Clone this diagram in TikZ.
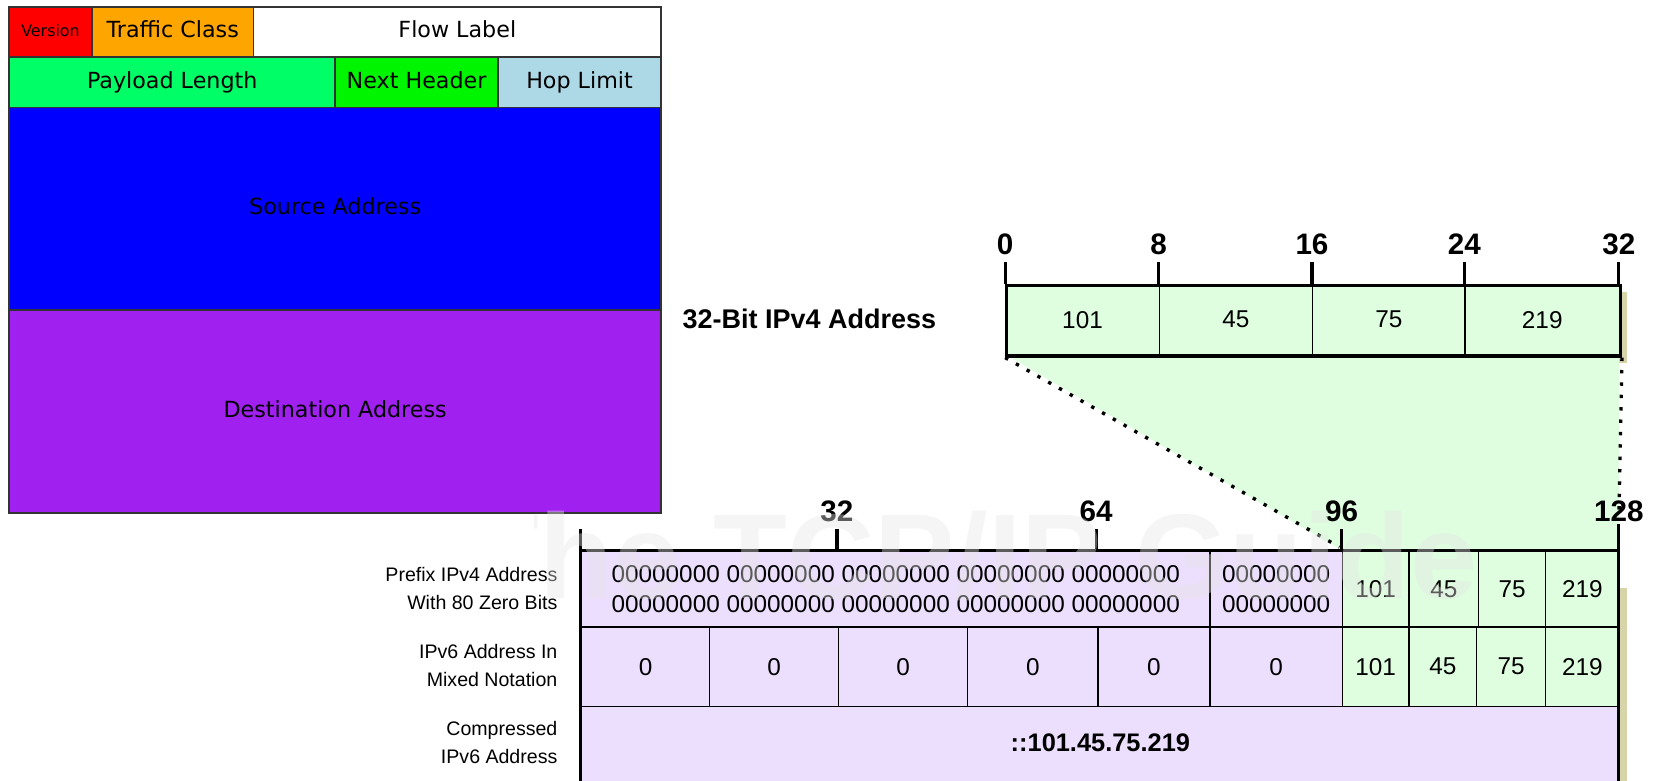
\documentclass[tikz,border=0pt]{standalone}
\usepackage{fontspec}
\setmainfont{Liberation Sans}
\newfontfamily\djv{DejaVu Sans}
\definecolor{vred}{HTML}{FF0000}
\definecolor{torange}{HTML}{FFA500}
\definecolor{plgreen}{HTML}{00FF66}
\definecolor{nhgreen}{HTML}{00F500}
\definecolor{hlblue}{HTML}{ADD8E6}
\definecolor{srcblue}{HTML}{0000FF}
\definecolor{dstpurple}{HTML}{A020F0}
\definecolor{ltgreen}{HTML}{DFFDDF}
\definecolor{ltpurple}{HTML}{ECDEFD}
\definecolor{shadowc}{HTML}{D8D4AA}
\newcommand\cellat[7]{\node[#6, minimum width={#4pt-#2pt}, minimum height={#5pt-#3pt}, anchor=north west] (#1) at (#2,#3) {#7};}
\begin{document}
\begin{tikzpicture}[x=1pt,y=-1pt,
  hcell/.style={draw=black!80, line width=1.5pt, inner sep=0pt, font=\djv\fontsize{21}{25}\selectfont, text=black, text height=15pt, text depth=4pt},
  vcell/.style={draw=black, line width=1.3pt, inner sep=0pt, font=\fontsize{23}{28}\selectfont, align=center},
  thickline/.style={line width=3pt},
  ticklbl/.style={font=\bfseries\fontsize{28}{30}\selectfont},
  rowlbl/.style={align=right, anchor=east, inner sep=0pt, font=\fontsize{18.5}{26}\selectfont},
  dotline/.style={line width=3.2pt, dash pattern=on 3.2pt off 8.5pt}]
\useasboundingbox (0,0) rectangle (1568,738);
% ---------------- IPv6 header ----------------
\cellat{ver}{8}{6}{86}{53}{hcell,fill=vred,font=\djv\fontsize{15}{18}\selectfont,text height=11pt,text depth=3pt}{Version}
\cellat{tc}{86}{6}{239}{53}{hcell,fill=torange}{Traffic Class}
\cellat{fl}{239}{6}{624}{53}{hcell,fill=white}{Flow Label}
\cellat{pl}{8}{53}{316}{101}{hcell,fill=plgreen}{Payload Length}
\cellat{nh}{316}{53}{470}{101}{hcell,fill=nhgreen}{Next Header}
\cellat{hl}{470}{53}{624}{101}{hcell,fill=hlblue}{Hop Limit}
\cellat{src}{8}{101}{624}{292}{hcell,fill=srcblue}{Source Address}
\cellat{dst}{8}{292}{624}{484}{hcell,fill=dstpurple}{Destination Address}
% ---------------- shadows and expansion area ----------------
\fill[shadowc] (1530,276) rectangle (1538,343);
\fill[shadowc] (1530,556) rectangle (1538,745);
\fill[ltgreen] (950,335) -- (1530,335) -- (1530,520) -- (1268,520) -- cycle;
% ---------------- 32-bit IPv4 address ----------------
\node[anchor=west, inner sep=0pt, font=\bfseries\fontsize{25.5}{28}\selectfont] (v4lbl) at (645,301) {32-Bit IPv4 Address};
\cellat{a1}{950}{268}{1095}{335}{vcell,fill=ltgreen}{101}
\cellat{a2}{1095}{268}{1240}{335}{vcell,fill=ltgreen}{45}
\cellat{a3}{1240}{268}{1384}{335}{vcell,fill=ltgreen}{75}
\cellat{a4}{1384}{268}{1530}{335}{vcell,fill=ltgreen}{219}
\node[draw, thickline, inner sep=0pt, minimum width=580pt, minimum height=67pt, anchor=north west] (ip4) at (950,268) {};
\foreach \x/\l [count=\i] in {950/0,1095/8,1240/16,1384/24,1530/32}{
  \coordinate (tt\i) at (\x,248);
  \coordinate (tb\i) at (\x,268);
  \draw[thickline] (tb\i) -- (tt\i);
  \node[ticklbl] (tl\i) at (\x,231) {\l};
}
% ---------------- 128-bit box ----------------
\cellat{za}{549}{520}{1143}{592}{vcell,fill=ltpurple}{00000000 00000000 00000000 00000000 00000000\\00000000 00000000 00000000 00000000 00000000}
\cellat{zb}{1143}{520}{1268}{592}{vcell,fill=ltpurple}{00000000\\00000000}
\cellat{g1}{1268}{520}{1331}{592}{vcell,fill=ltgreen}{101}
\cellat{g2}{1331}{520}{1397}{592}{vcell,fill=ltgreen}{45}
\cellat{g3}{1397}{520}{1460}{592}{vcell,fill=ltgreen}{75}
\cellat{g4}{1460}{520}{1530}{592}{vcell,fill=ltgreen}{219}
\cellat{m1}{549}{592}{670}{667}{vcell,fill=ltpurple}{0}
\cellat{m2}{670}{592}{792}{667}{vcell,fill=ltpurple}{0}
\cellat{m3}{792}{592}{914}{667}{vcell,fill=ltpurple}{0}
\cellat{m4}{914}{592}{1037}{667}{vcell,fill=ltpurple}{0}
\cellat{m5}{1037}{592}{1143}{667}{vcell,fill=ltpurple}{0}
\cellat{m6}{1143}{592}{1268}{667}{vcell,fill=ltpurple}{0}
\cellat{h1}{1268}{592}{1331}{667}{vcell,fill=ltgreen}{101}
\cellat{h2}{1331}{592}{1395}{667}{vcell,fill=ltgreen}{45}
\cellat{h3}{1395}{592}{1460}{667}{vcell,fill=ltgreen}{75}
\cellat{h4}{1460}{592}{1530}{667}{vcell,fill=ltgreen}{219}
\cellat{cmp}{549}{667}{1530}{750}{vcell,fill=ltpurple}{}
\node[font=\bfseries\fontsize{24}{28}\selectfont] (cmptxt) at (1040,702) {::101.45.75.219};
% outer border and ticks
\coordinate (bl0) at (549,500);
\coordinate (bl1) at (549,745);
\coordinate (br0) at (1530,495);
\coordinate (br1) at (1530,745);
\draw[thickline] (bl0) -- (bl1);
\draw[thickline] (za.north west) -- (g4.north east);
\draw[thickline] (br0) -- (br1);
\foreach \x/\l [count=\i] in {791/32,1036/64,1268/96}{
  \coordinate (ut\i) at (\x,500);
  \coordinate (ub\i) at (\x,520);
  \draw[thickline] (ub\i) -- (ut\i);
  \node[ticklbl] (ul\i) at (\x,483) {\l};
}
\node[ticklbl] (ul4) at (1530,483) {128};
% dotted projection lines
\coordinate (d96) at (1266,517);
\coordinate (d128) at (1530,492);
\draw[dotline] (ip4.south west) -- (d96);
\draw[dotline] (ip4.south east) -- (d128);
% row labels
\node[rowlbl] (r1) at (527,556) {Prefix IPv4 Address\\With 80 Zero Bits};
\node[rowlbl] (r2) at (527,629) {IPv6 Address In\\Mixed Notation};
\node[rowlbl] (r3) at (527,702) {Compressed\\IPv6 Address};
% watermark
\begin{scope}
\clip (505,440) rectangle (1568,738);
\node[anchor=base west, inner sep=0pt, font=\bfseries\fontsize{114}{120}\selectfont, text=black!10, opacity=0.4] (wm) at (440,566) {The TCP/IP Guide};
\end{scope}
\end{tikzpicture}
\end{document}
